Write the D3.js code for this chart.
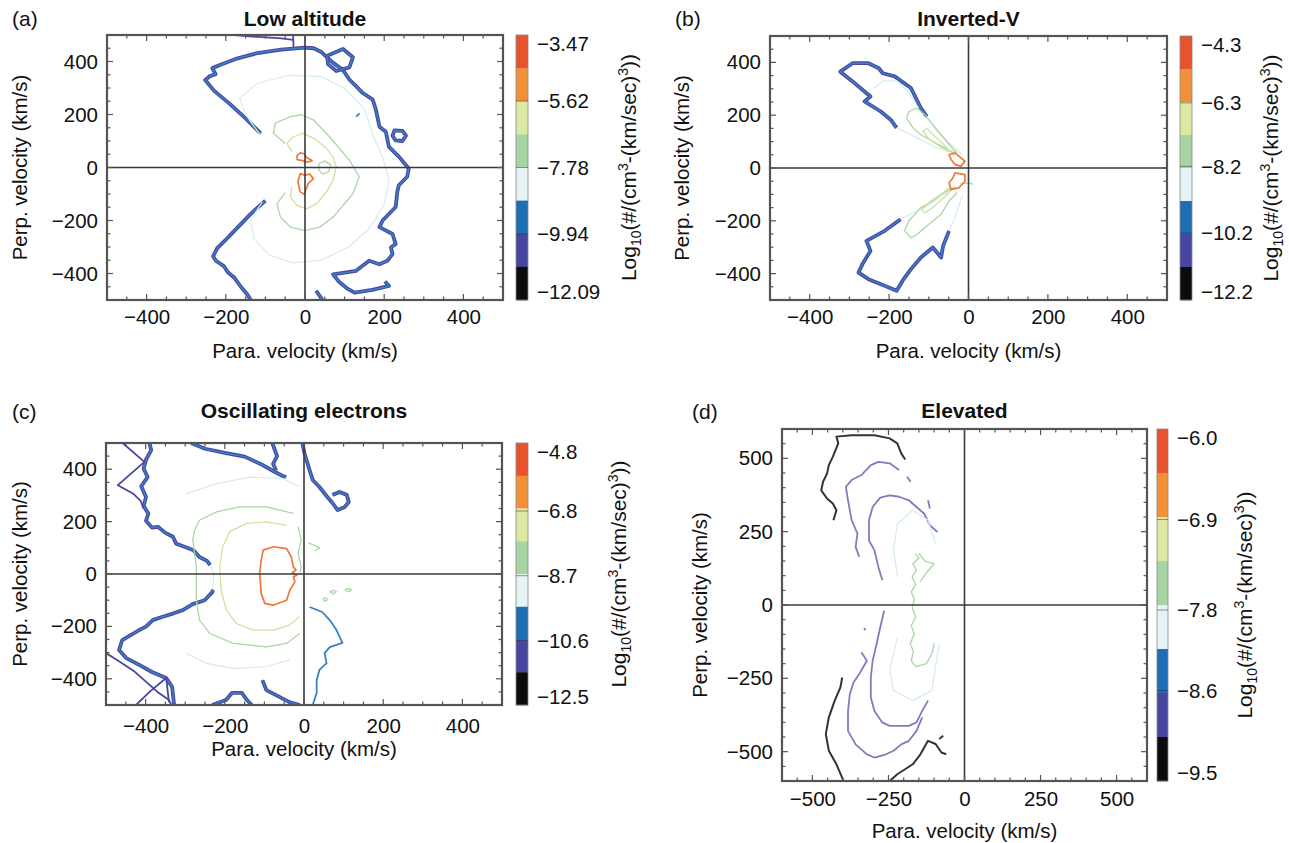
<!DOCTYPE html>
<html>
<head>
<meta charset="utf-8">
<script src="https://cdn.jsdelivr.net/npm/d3@7"></script>
<style>
  body { margin: 0; background: #fff; }
  text { font-family: "Liberation Sans", Arial, Helvetica, sans-serif; fill: #111; }
</style>
</head>
<body>
<div id="chart"></div>
<script>
// Four electron distribution contour plots (para. vs perp. velocity)

// COLOUR LEVELS, index 0 = top of colour bar (highest), 7 = bottom
const BAND_COLORS = ["#e8532d", "#f2903a", "#dbe9a2", "#a6d5a3", "#e6f3f5", "#1f6db5", "#4646a0", "#0c0c0c"]
const LINE_COLORS = ["#ea5a30", "#f0773a", "#cde3a0", "#a9d7a5", "#d6ebf1", "#3a80c6", "#48479e", "#333333"]
const LINE_WIDTHS = [1.6, 1.7, 1.3, 1.3, 1.2, 1.8, 1.8, 2.0]

// PANEL DATA
const panelLetters = ["(a)", "(b)", "(c)", "(d)"]
const panelTitles = ["Low altitude", "Inverted-V", "Oscillating electrons", "Elevated"]
const axisDomains = [[-500, 500], [-500, 500], [-500, 500], [-600, 600]]
const axisTicks = [
  [-400, -200, 0, 200, 400],
  [-400, -200, 0, 200, 400],
  [-400, -200, 0, 200, 400],
  [-500, -250, 0, 250, 500]
]
const colorbarTicks = [
  [-3.47, -5.62, -7.78, -9.94, -12.09],
  [-4.3, -6.3, -8.2, -10.2, -12.2],
  [-4.8, -6.8, -8.7, -10.6, -12.5],
  [-6.0, -6.9, -7.8, -8.6, -9.5]
]
const colorbarDigits = [2, 1, 1, 1]

// Contours: levels = contour level(s) drawn (two levels = neighbouring lines
// that run together), points = [para. velocity, perp. velocity] in km/s
const lowAltitudeContours = [
  {levels: [6, 5], points: [[-112,129],[-150,185],[-190,240],[-230,290],[-252,330],[-240,345],[-226,352],[-234,375],[-215,387],[-195,398],[-170,412],[-120,432],[-60,445],[0,452],[22,450],[40,437],[71,395],[95,370],[112,332],[130,305],[146,281],[171,256],[179,218],[188,154],[204,135],[212,78],[237,41],[262,-4],[258,-35],[237,-67],[233,-92],[229,-149],[196,-200],[188,-225],[221,-251],[229,-289],[217,-301],[221,-327],[208,-352],[188,-365],[162,-352],[129,-390],[104,-396],[71,-403],[85,-430],[105,-455],[125,-472],[170,-462],[212,-447],[202,-430]]},
  {levels: [6, 5], points: [[28,-465],[36,-482],[44,-500]]},
  {levels: [6, 5], points: [[-100,-125],[-137,-175],[-179,-240],[-205,-280],[-222,-305],[-232,-335],[-225,-352],[-205,-372],[-195,-395],[-179,-415],[-162,-450],[-146,-478],[-137,-500]]},
  {levels: [6], points: [[-178,500],[-120,493],[-60,487],[-30,482]]},
  {levels: [6], points: [[-30,500],[-29,456]]},
  {levels: [6, 5], closed: true, points: [[56,422],[96,447],[121,416],[112,378],[79,364],[58,390]]},
  {levels: [6, 5], closed: true, points: [[226,140],[246,138],[255,120],[246,100],[229,102],[221,120]]},
  {levels: [5], points: [[133,300],[142,288]]},
  {levels: [5], points: [[129,192],[138,204]]},
  {levels: [4], points: [[-112,120],[-150,200],[-165,262],[-120,318],[-40,348],[40,343],[100,298],[150,220],[172,120],[198,30],[212,-50],[200,-140],[162,-230],[110,-300],[40,-350],[-30,-360],[-90,-330],[-128,-270],[-138,-200],[-108,-130]]},
  {levels: [3], points: [[-50,90],[-80,130],[-75,167],[-37,192],[-8,199],[21,180],[62,116],[112,28],[137,-35],[121,-99],[71,-187],[37,-225],[0,-238],[-37,-225],[-62,-187],[-71,-137],[-50,-95]]},
  {levels: [2], points: [[-33,60],[-46,91],[-29,116],[-4,129],[29,104],[54,72],[71,40],[79,3],[71,-48],[54,-92],[29,-137],[4,-156],[-21,-143],[-37,-111],[-33,-73]]},
  {levels: [3], closed: true, points: [[35,15],[50,25],[65,10],[60,-15],[45,-25],[35,-10]]},
  {levels: [1], closed: true, points: [[-20,45],[-12,55],[-2,52],[4,38],[18,26],[6,20],[-6,26],[-20,30]]},
  {levels: [1], closed: true, points: [[-12,-23],[-18,-54],[-12,-92],[-2,-101],[3,-80],[8,-61],[21,-42],[12,-25],[0,-29]]}
]

const invertedVContours = [
  {levels: [6, 5], points: [[-181,152],[-196,183],[-221,214],[-262,252],[-247,271],[-262,290],[-292,328],[-323,365],[-292,397],[-252,397],[-226,378],[-216,359],[-186,347],[-145,303],[-120,227],[-105,195]]},
  {levels: [4], points: [[-30,60],[-80,76],[-130,114],[-181,152]]},
  {levels: [4], points: [[-105,195],[-80,139],[-34,76],[-15,50]]},
  {levels: [6, 5], points: [[-171,-194],[-211,-238],[-257,-276],[-247,-314],[-267,-364],[-277,-396],[-252,-421],[-211,-446],[-181,-465],[-166,-427],[-145,-383],[-120,-339],[-90,-301],[-69,-339],[-64,-295],[-49,-238]]},
  {levels: [4], points: [[-30,-70],[-100,-140],[-171,-194]]},
  {levels: [4], points: [[-49,-238],[-34,-188],[-15,-100]]},
  {levels: [4], points: [[-240,300],[-215,330],[-180,330],[-150,285],[-125,225]]},
  {levels: [3], points: [[-29,57],[-49,89],[-69,126],[-90,164],[-110,202],[-130,227],[-150,214],[-156,189],[-140,152],[-120,126],[-90,101],[-59,76],[-35,55]]},
  {levels: [2], points: [[-35,45],[-60,85],[-85,120],[-105,150],[-115,140],[-100,110],[-75,85],[-50,60]]},
  {levels: [3], points: [[-29,-94],[-49,-125],[-69,-175],[-100,-213],[-130,-252],[-145,-264],[-161,-238],[-150,-200],[-120,-150],[-90,-125],[-69,-100],[-39,-75]]},
  {levels: [3], points: [[-20,-60],[2,-56],[12,-62]]},
  {levels: [2], points: [[-35,-70],[-60,-110],[-90,-150],[-110,-170],[-118,-158],[-95,-125],[-65,-95],[-45,-70]]},
  {levels: [1], closed: true, points: [[-49,51],[-34,57],[-19,38],[-9,26],[-19,7],[-34,13],[-44,32]]},
  {levels: [1], closed: true, points: [[-34,-18],[-9,-25],[-9,-50],[-24,-75],[-44,-81],[-49,-56],[-39,-37]]}
]

const oscillatingContours = [
  {levels: [6, 5], points: [[-390,500],[-386,472],[-399,436],[-405,402],[-395,370],[-411,335],[-399,294],[-405,259],[-393,231],[-399,203],[-384,177],[-369,180],[-350,157],[-331,142],[-323,116],[-302,104],[-279,91],[-264,65],[-245,50],[-237,34]]},
  {levels: [4], points: [[-237,34],[-228,0],[-230,-60]]},
  {levels: [6, 5], points: [[-230,-60],[-232,-70],[-251,-100],[-281,-115],[-306,-138],[-331,-151],[-357,-163],[-382,-176],[-399,-201],[-416,-214],[-440,-235],[-459,-252],[-467,-290],[-449,-321],[-416,-347],[-384,-374],[-348,-397],[-333,-431],[-328,-500]]},
  {levels: [6], points: [[-458,500],[-403,428],[-470,339],[-430,305],[-412,278],[-405,250]]},
  {levels: [6], points: [[-500,-302],[-470,-330],[-430,-370],[-400,-410],[-370,-450],[-341,-481],[-335,-500]]},
  {levels: [6], points: [[-424,-500],[-390,-450],[-348,-397],[-341,-489]]},
  {levels: [6, 5], points: [[-285,500],[-250,478],[-200,462],[-150,448],[-110,420],[-80,395],[-55,375],[-45,370]]},
  {levels: [6, 5], points: [[-80,500],[-68,450],[-78,420],[-70,395]]},
  {levels: [6, 5], points: [[-4,500],[1,462],[14,397],[22,359],[39,332],[59,294],[72,271],[85,244],[103,256],[113,275],[108,302],[90,313],[72,302]]},
  {levels: [5], points: [[14,-126],[46,-145],[65,-176],[82,-214],[97,-263],[65,-279],[52,-302],[57,-340],[39,-366],[32,-405],[32,-454],[22,-500]]},
  {levels: [6, 5], points: [[-232,-500],[-197,-481],[-182,-454],[-157,-454],[-144,-481],[-132,-500]]},
  {levels: [6, 5], points: [[-105,-405],[-95,-443],[-62,-469],[-37,-489],[-11,-500]]},
  {levels: [4], points: [[-297,307],[-221,345],[-137,370],[-53,364],[-11,332]]},
  {levels: [4], points: [[-297,-303],[-247,-341],[-179,-360],[-95,-354],[-36,-328]]},
  {levels: [3], points: [[-27,231],[-95,256],[-162,256],[-221,237],[-264,205],[-276,167],[-281,129],[-272,27],[-272,-100],[-264,-176],[-238,-227],[-179,-265],[-95,-278],[-44,-265],[-11,-227]]},
  {levels: [2], points: [[-44,186],[-95,199],[-146,193],[-188,161],[-205,104],[-213,27],[-209,-62],[-196,-138],[-171,-189],[-129,-214],[-78,-214],[-36,-195],[-11,-163]]},
  {levels: [1], closed: true, points: [[-103,91],[-78,104],[-44,97],[-32,65],[-27,27],[-20,15],[-30,5],[-18,-5],[-27,-11],[-23,-30],[-36,-62],[-44,-100],[-78,-119],[-99,-112],[-108,-74],[-112,2],[-108,53]]},
  {levels: [3], points: [[-15,180],[-7,129],[-15,78],[-7,27],[-11,2]]},
  {levels: [3], points: [[10,120],[25,110],[40,100],[28,88]]},
  {levels: [3], closed: true, points: [[66,-68],[74,-62],[82,-68],[74,-76]]},
  {levels: [3], closed: true, points: [[104,-60],[112,-55],[120,-60],[112,-68]]},
  {levels: [3], closed: true, points: [[48,-95],[55,-90],[60,-98],[53,-104]]}
]

const elevatedContours = [
  {levels: [7], points: [[-431,289],[-421,323],[-433,346],[-452,363],[-471,391],[-465,420],[-452,448],[-446,477],[-433,505],[-415,551],[-421,574],[-371,579],[-296,579],[-246,568],[-221,551],[-208,517],[-195,496]]},
  {levels: [7], points: [[-402,-247],[-408,-281],[-427,-327],[-446,-383],[-456,-440],[-446,-497],[-421,-543],[-402,-589],[-398,-600]]},
  {levels: [7], points: [[-246,-600],[-221,-577],[-170,-543],[-145,-509],[-120,-463],[-95,-474],[-76,-503],[-60,-509]]},
  {levels: [7], points: [[-83,-457],[-70,-446]]},
  {levels: [6], points: [[-346,164],[-358,198],[-352,243],[-371,289],[-383,357],[-390,403],[-371,426],[-339,443],[-308,477],[-283,488],[-246,483],[-215,460]]},
  {levels: [6], points: [[-189,437],[-177,420]]},
  {levels: [6], points: [[-120,357],[-114,329]]},
  {levels: [6], points: [[-270,84],[-283,129],[-296,186],[-314,220],[-314,289],[-302,334],[-277,366],[-246,374],[-215,369],[-183,357],[-158,334],[-133,312],[-114,272],[-89,249]]},
  {levels: [6], points: [[-339,-161],[-321,-190],[-346,-235],[-365,-264],[-377,-304],[-383,-361],[-383,-429],[-358,-475],[-321,-509],[-296,-520],[-258,-509],[-233,-497],[-208,-475],[-183,-463],[-158,-429],[-139,-383]]},
  {levels: [6], points: [[-264,-19],[-277,-76],[-289,-133],[-302,-190],[-308,-247],[-308,-315],[-296,-361],[-271,-400],[-246,-412],[-183,-412],[-158,-400],[-139,-361],[-120,-326]]},
  {levels: [6], points: [[-330,-78],[-326,-86]]},
  {levels: [4], points: [[-220,95],[-233,186],[-221,277],[-170,323],[-120,289],[-95,209]]},
  {levels: [4], points: [[-221,-110],[-246,-224],[-233,-292],[-170,-326],[-108,-292],[-83,-133]]},
  {levels: [3], points: [[-160,175],[-150,160],[-170,140],[-158,120],[-172,95],[-160,70],[-175,45],[-165,20],[-172,-10],[-160,-40],[-175,-70],[-165,-100],[-178,-130],[-168,-160],[-175,-190],[-160,-210],[-125,-200],[-105,-160],[-100,-130]]},
  {levels: [3], points: [[-150,175],[-130,150],[-100,140],[-125,110],[-145,80]]}
]

const panelContours = [lowAltitudeContours, invertedVContours, oscillatingContours, elevatedContours]

// LAYOUT (pixels)
const LAYOUT = [
  {frame: [107, 35, 503, 300], cbar: [516, 35, 528, 300], letter: [12, 26], titleY: 26, tickPad: 9, xTitleY: 358, yTitleX: 27, cbTitleX: 636},
  {frame: [770, 36, 1167, 300], cbar: [1180, 36, 1192, 300], letter: [675, 26], titleY: 26, tickPad: 9, xTitleY: 358, yTitleX: 689, cbTitleX: 1278},
  {frame: [106, 443, 502, 705], cbar: [516, 443, 528, 705], letter: [12, 419], titleY: 418, tickPad: 13, xTitleY: 756, yTitleX: 27, cbTitleX: 626},
  {frame: [782, 429, 1147, 781], cbar: [1157, 429, 1168, 781], letter: [692, 419], titleY: 418, tickPad: 10, xTitleY: 838, yTitleX: 707, cbTitleX: 1252}
]

const svg = d3.select("#chart").append("svg")
  .attr("width", 1289)
  .attr("height", 843)

panelLetters.forEach((letter, p) => {
  const L = LAYOUT[p]
  const [fx0, fy0, fx1, fy1] = L.frame
  const dom = axisDomains[p]
  const x = d3.scaleLinear().domain(dom).range([fx0, fx1])
  const y = d3.scaleLinear().domain(dom).range([fy1, fy0])
  const g = svg.append("g")

  // clip contours to the frame
  svg.append("clipPath").attr("id", "clip" + p)
    .append("rect").attr("x", fx0).attr("y", fy0)
    .attr("width", fx1 - fx0).attr("height", fy1 - fy0)

  const plot = g.append("g").attr("clip-path", "url(#clip" + p + ")")
  const line = d3.line().x(d => x(d[0])).y(d => y(d[1]))

  panelContours[p].forEach(c => {
    line.curve(c.closed ? d3.curveLinearClosed : d3.curveLinear)
    const path = line(c.points)
    if (c.levels.length > 1) {
      // two neighbouring levels running side by side
      plot.append("path").attr("d", path)
        .attr("fill", "none")
        .attr("stroke", LINE_COLORS[c.levels[0]])
        .attr("stroke-width", 3.8)
        .attr("stroke-linejoin", "round")
      plot.append("path").attr("d", path)
        .attr("fill", "none")
        .attr("stroke", LINE_COLORS[c.levels[1]])
        .attr("stroke-width", 1.5)
        .attr("stroke-linejoin", "round")
    } else {
      const lv = c.levels[0]
      plot.append("path").attr("d", path)
        .attr("fill", "none")
        .attr("stroke", LINE_COLORS[lv])
        .attr("stroke-width", LINE_WIDTHS[lv])
        .attr("stroke-opacity", p === 3 && lv === 6 ? 0.7 : 1)
        .attr("stroke-linejoin", "round")
    }
  })

  // zero lines
  g.append("line").attr("x1", x(0)).attr("x2", x(0)).attr("y1", fy0).attr("y2", fy1)
    .attr("stroke", "#3a3a3a").attr("stroke-width", 1.6)
  g.append("line").attr("x1", fx0).attr("x2", fx1).attr("y1", y(0)).attr("y2", y(0))
    .attr("stroke", "#3a3a3a").attr("stroke-width", 1.6)

  // inward ticks on all four sides
  const majors = axisTicks[p]
  const minors = d3.range(dom[0] + 50, dom[1], 50)
  const tk = g.append("g").attr("stroke", "#555").attr("stroke-width", 1.2)
  minors.forEach(v => {
    const len = majors.includes(v) ? 6 : 3.5
    tk.append("line").attr("x1", x(v)).attr("x2", x(v)).attr("y1", fy1).attr("y2", fy1 - len)
    tk.append("line").attr("x1", x(v)).attr("x2", x(v)).attr("y1", fy0).attr("y2", fy0 + len)
    tk.append("line").attr("y1", y(v)).attr("y2", y(v)).attr("x1", fx0).attr("x2", fx0 + len)
    tk.append("line").attr("y1", y(v)).attr("y2", y(v)).attr("x1", fx1).attr("x2", fx1 - len)
  })

  // frame
  g.append("rect").attr("x", fx0).attr("y", fy0)
    .attr("width", fx1 - fx0).attr("height", fy1 - fy0)
    .attr("fill", "none").attr("stroke", "#555").attr("stroke-width", 2.2)

  // tick labels
  const xAxis = g.append("g").attr("transform", `translate(0,${fy1})`)
    .call(d3.axisBottom(x).tickValues(majors).tickSize(0).tickPadding(L.tickPad))
  const yAxis = g.append("g").attr("transform", `translate(${fx0},0)`)
    .call(d3.axisLeft(y).tickValues(majors).tickSize(0).tickPadding(9))
  for (const ax of [xAxis, yAxis]) {
    ax.select(".domain").remove()
    ax.selectAll("text").style("font-size", "20.5px")
  }

  // titles
  g.append("text").attr("x", L.letter[0]).attr("y", L.letter[1])
    .style("font-size", "21px").text(letter)
  g.append("text").attr("x", (fx0 + fx1) / 2).attr("y", L.titleY)
    .attr("text-anchor", "middle").style("font-size", "21px").style("font-weight", "bold")
    .text(panelTitles[p])
  g.append("text").attr("x", (fx0 + fx1) / 2).attr("y", L.xTitleY)
    .attr("text-anchor", "middle").style("font-size", "20.5px")
    .text("Para. velocity (km/s)")
  g.append("text")
    .attr("transform", `translate(${L.yTitleX},${(fy0 + fy1) / 2}) rotate(-90)`)
    .attr("text-anchor", "middle").style("font-size", "20.5px")
    .text("Perp. velocity (km/s)")

  // COLOUR BAR
  const [cx0, cy0, cx1, cy1] = L.cbar
  const cbVals = colorbarTicks[p]
  const vTop = cbVals[0], vBot = cbVals[cbVals.length - 1]
  const cb = d3.scaleLinear().domain([vTop, vBot]).range([cy0, cy1])
  const step = (vBot - vTop) / BAND_COLORS.length
  BAND_COLORS.forEach((col, i) => {
    const a = vTop + i * step, b = vTop + (i + 1) * step
    g.append("rect").attr("x", cx0).attr("y", cb(a))
      .attr("width", cx1 - cx0).attr("height", cb(b) - cb(a) + 0.3)
      .attr("fill", col)
  })
  g.append("rect").attr("x", cx0).attr("y", cy0)
    .attr("width", cx1 - cx0).attr("height", cy1 - cy0)
    .attr("fill", "none").attr("stroke", "#888").attr("stroke-width", 0.8)
  cbVals.slice(1, -1).forEach(v => {
    g.append("line").attr("x1", cx0).attr("x2", cx1).attr("y1", cb(v)).attr("y2", cb(v))
      .attr("stroke", "#333").attr("stroke-width", 1).attr("stroke-opacity", 0.5)
  })
  const fmt = d3.format("." + colorbarDigits[p] + "f")
  cbVals.forEach(v => {
    const yy = Math.max(cy0 + 9, Math.min(cy1 - 8, cb(v)))
    g.append("text").attr("x", cx1 + 9).attr("y", yy).attr("dy", "0.35em")
      .style("font-size", "20.5px").text(fmt(v).replace("-", "\u2212"))
  })

  const cbt = g.append("text")
    .attr("transform", `translate(${L.cbTitleX},${(cy0 + cy1) / 2}) rotate(-90)`)
    .attr("text-anchor", "middle").style("font-size", "21px")
  cbt.append("tspan").text("Log")
  cbt.append("tspan").attr("dy", 5).style("font-size", "14px").text("10")
  cbt.append("tspan").attr("dy", -5).text("(#/(cm")
  cbt.append("tspan").attr("dy", -8).style("font-size", "14px").text("3")
  cbt.append("tspan").attr("dy", 8).text("-(km/sec)")
  cbt.append("tspan").attr("dy", -8).style("font-size", "14px").text("3")
  cbt.append("tspan").attr("dy", 8).text("))")
})
</script>
</body>
</html>
